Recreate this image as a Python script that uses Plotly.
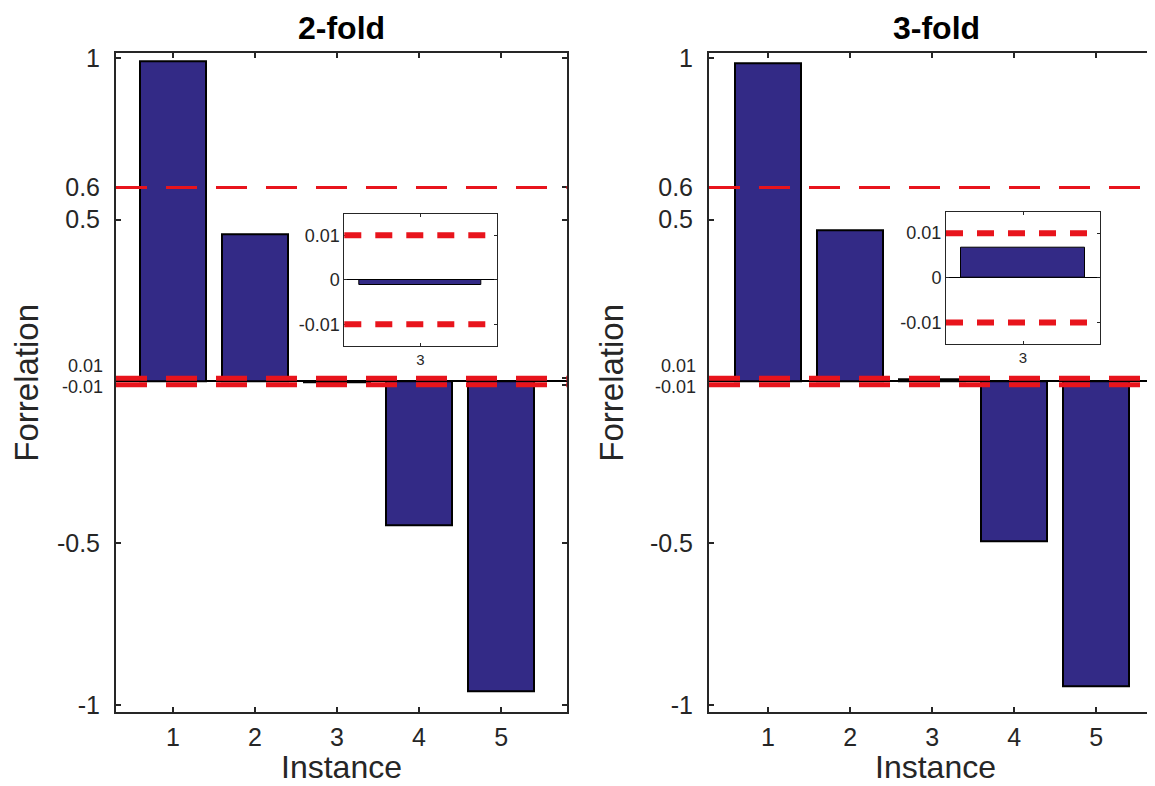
import plotly.graph_objects as go

# ---------------- data ----------------
instances = [1, 2, 3, 4, 5]
corr_2fold = [0.989, 0.454, -0.0011, -0.446, -0.957]
corr_3fold = [0.983, 0.466, 0.0068, -0.493, -0.941]
panel_titles = ["2-fold", "3-fold"]
x_title = "Instance"
y_title = "Forrelation"
main_thresholds = [0.6, 0.01, -0.01]
inset_thresholds = [0.01, -0.01]
y_tickvals = [-1, -0.5, -0.01, 0.01, 0.5, 0.6, 1]
y_ticktext = ["-1", "-0.5", "", "", "0.5", "0.6", "1"]
small_labels = ["0.01", "-0.01"]
inset_tickvals = [-0.01, 0, 0.01]
inset_ticktext = ["-0.01", "0", "0.01"]
inset_instance = 3

# ---------------- style ----------------
# The page body has an 8px margin (top/left), so positions are given in
# window pixels minus 8 and the figure fills the rest of the window.
OFF = 8
W, H = 1155 - OFF, 786 - OFF
FONT = "Liberation Sans, Arial, Helvetica, sans-serif"
TXT = "#262626"
BAR = "#332a86"
RED = "#e8141c"

def px_x(p):
    return min(1.0, max(0.0, (p - OFF) / W))

def px_y(p):
    return min(1.0, max(0.0, 1 - (p - OFF) / H))

fig = go.Figure()

panels = [
    dict(data=corr_2fold, dom_x=[px_x(116), px_x(566.7)], xr=[0.305, 5.80],
         inset_x=[px_x(344.3), px_x(496.7)], inset_y=[px_y(345.7), px_y(214)],
         title_x=px_x(341), xtitle_x=px_x(341)),
    dict(data=corr_3fold, dom_x=[px_x(709), 1.0], xr=[0.28, 5.716],
         inset_x=[px_x(946), px_x(1100)], inset_y=[px_y(344), px_y(211.7)],
         title_x=px_x(936), xtitle_x=px_x(935)),
]
main_dom_y = [px_y(712.3), px_y(53.3)]
yr = [-1.0226, 1.0145]

annotations = []
shapes = []
for i, p in enumerate(panels):
    mx = "x" if i == 0 else "x2"
    my = "y" if i == 0 else "y2"
    ix = "x3" if i == 0 else "x4"
    iy = "y3" if i == 0 else "y4"
    mxk = "xaxis" if i == 0 else "xaxis2"
    myk = "yaxis" if i == 0 else "yaxis2"
    ixk = "xaxis3" if i == 0 else "xaxis4"
    iyk = "yaxis3" if i == 0 else "yaxis4"

    fig.add_trace(go.Bar(x=instances, y=p["data"], xaxis=mx, yaxis=my, width=0.8,
                         marker=dict(color=BAR, line=dict(color="#000000", width=2)),
                         showlegend=False))
    # inset bar (instance 3)
    idx = instances.index(inset_instance)
    fig.add_trace(go.Bar(x=[instances[idx]], y=[p["data"][idx]], xaxis=ix, yaxis=iy,
                         width=0.8,
                         marker=dict(color=BAR, line=dict(color="#000000", width=1)),
                         showlegend=False))

    for t in main_thresholds:
        w = 3 if abs(t) > 0.1 else 5
        shapes.append(dict(type="line", xref=f"{mx} domain", yref=my, x0=0, x1=1, y0=t, y1=t,
                           line=dict(color=RED, width=w, dash="31px,19px"), layer="above"))
    for t in inset_thresholds:
        shapes.append(dict(type="line", xref=f"{ix} domain", yref=iy, x0=0, x1=1, y0=t, y1=t,
                           line=dict(color=RED, width=6, dash="17px,14px"), layer="above"))

    fig.update_layout(**{
        mxk: dict(domain=p["dom_x"], anchor=my, range=p["xr"], tickvals=instances,
                  automargin=False,
                  ticks="inside", ticklen=5, tickwidth=2, tickcolor=TXT,
                  showline=True, linewidth=2, linecolor=TXT, mirror="ticks",
                  showgrid=False, zeroline=False, ticklabelstandoff=2,
                  tickfont=dict(size=25, color=TXT, family=FONT)),
        myk: dict(domain=main_dom_y, anchor=mx, range=yr, tickvals=y_tickvals,
                  ticktext=y_ticktext, automargin=False,
                  ticks="inside", ticklen=5, tickwidth=2, tickcolor=TXT,
                  showline=True, linewidth=2, linecolor=TXT, mirror="ticks",
                  showgrid=False, zeroline=True, zerolinecolor="#000000", zerolinewidth=2,
                  ticklabelstandoff=9,
                  tickfont=dict(size=25, color=TXT, family=FONT),
                  title=dict(text=y_title, font=dict(size=33, color=TXT, family=FONT),
                             standoff=16)),
        ixk: dict(domain=p["inset_x"], anchor=iy, range=[2.5, 3.5], tickvals=[inset_instance],
                  automargin=False,
                  ticks="inside", ticklen=3, tickwidth=1, tickcolor=TXT,
                  showline=True, linewidth=1, linecolor=TXT, mirror="ticks",
                  showgrid=False, zeroline=False, ticklabelstandoff=0,
                  tickfont=dict(size=15, color=TXT, family=FONT)),
        iyk: dict(domain=p["inset_y"], anchor=ix, range=[-0.0148, 0.0148],
                  tickvals=inset_tickvals, ticktext=inset_ticktext, automargin=False,
                  ticks="inside", ticklen=3, tickwidth=1, tickcolor=TXT,
                  showline=True, linewidth=1, linecolor=TXT, mirror="ticks",
                  showgrid=False, zeroline=True, zerolinecolor="#000000", zerolinewidth=1,
                  ticklabelstandoff=0,
                  tickfont=dict(size=18, color=TXT, family=FONT)),
    })

    # small tick labels for +-0.01 on main axis
    for lab, val, ys in zip(small_labels, [0.01, -0.01], [12, -2]):
        annotations.append(dict(text=lab, xref=f"{mx} domain", yref=my, x=0, y=val,
                                xanchor="right", yanchor="middle", xshift=-11, yshift=ys,
                                showarrow=False, font=dict(size=18, color=TXT, family=FONT)))
    # x-axis title
    annotations.append(dict(text=x_title, xref="paper", yref="paper",
                            x=p["xtitle_x"], y=px_y(767), xanchor="center", yanchor="middle",
                            showarrow=False, font=dict(size=32, color=TXT, family=FONT)))
    # panel title
    annotations.append(dict(text=f"<b>{panel_titles[i]}</b>", xref="paper", yref="paper",
                            x=p["title_x"], y=px_y(28), xanchor="center", yanchor="middle",
                            showarrow=False,
                            font=dict(size=32, color="#000000", family=FONT)))

fig.update_layout(width=W, height=H, margin=dict(l=0, r=0, t=0, b=0, autoexpand=False),
                  paper_bgcolor="white", plot_bgcolor="white",
                  bargap=0, annotations=annotations, shapes=shapes, showlegend=False)

fig.write_html("out.html")
